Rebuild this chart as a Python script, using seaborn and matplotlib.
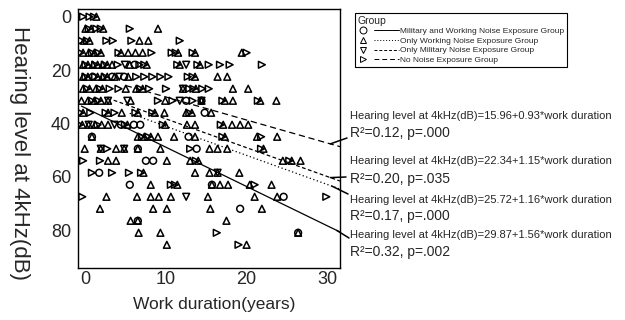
import numpy as np
import pandas as pd
import matplotlib
matplotlib.use("Agg")
import matplotlib.pyplot as plt
import seaborn as sns
from matplotlib.lines import Line2D
from matplotlib.legend_handler import HandlerBase

# ---------------- data ----------------
hearing_rows = [0, 4.5, 9, 13.5, 18, 22.5, 27, 31.5, 36, 40.5,
                45, 49.5, 54, 58.5, 63, 67.5, 72, 76.5, 81, 85.5]

# Only Working Noise Exposure Group (triangle up), years per hearing row
working_years = [
    [1.35],
    [0.0, 0.7, 2.2, 9.0],
    [-0.2, 0.5, 6.7, 7.8],
    [-0.3, 0.4, 1.1, 1.9, 4.4, 5.3, 6.2, 7.1, 11.5, 13.6, 19.4],
    [-0.3, 0.3, 0.9, 1.5, 2.1, 2.7, 3.3, 5.5, 7.6, 11.7, 14.2],
    [-0.3, 0.3, 1.5, 2.1, 2.7, 3.6, 5.3, 13.6, 16.4, 17.6],
    [-0.3, 0.5, 1.3, 2.1, 5.0, 6.3, 7.1, 12.1, 13.7, 18.3, 20.2],
    [-0.5, 0.3, 1.1, 1.9, 2.8, 5.6, 9.9, 14.4, 17.3, 18.3, 21.7, 23.7],
    [-0.3, 2.8, 4.5, 6.5, 8.6, 9.8, 12.5, 13.2, 15.6],
    [-0.4, 0.4, 1.2, 2.0, 2.8, 5.2, 9.9, 12.6, 13.6, 17.1, 18.2, 19.2, 20.2],
    [0.8, 6.5, 7.3, 8.1, 9.0, 11.0, 13.6, 17.3, 21.3, 23.8],
    [-0.1, 1.9, 3.8, 4.8, 6.5, 9.3, 15.4, 16.4, 17.6, 22.1],
    [2.8, 3.8, 10.1, 13.0, 14.0, 24.5, 25.6, 26.7],
    [7.2, 13.6, 15.4, 16.4, 19.1],
    [8.1, 11.4, 15.7, 16.7, 17.7, 20.4, 23.1],
    [2.6, 6.4, 8.1, 9.1, 10.6, 15.2, 21.0, 23.8],
    [1.8, 8.4, 10.1, 15.5, 21.9],
    [5.6, 6.5, 17.5],
    [6.6, 9.3, 26.4],
    [10.1, 20.0],
]

# No Noise Exposure Group (triangle right)
none_years = [
    [-0.3, 0.5, 1.05],
    [0.4, 1.35, 1.9, 5.5],
    [-0.5, 0.2, 2.6, 3.4, 5.7, 11.7],
    [-0.6, 0.8, 1.6, 4.1, 8.2, 10.7, 11.2, 13.3, 20.0],
    [0.0, 1.2, 2.4, 4.0, 6.7, 7.3, 11.4, 13.9, 15.3, 16.7, 17.9, 21.9],
    [0.0, 1.2, 2.4, 6.3, 7.3, 8.3, 9.3, 10.3, 12.7, 13.3],
    [0.2, 1.8, 3.0, 4.1, 6.8, 7.9, 10.0, 12.9, 13.4, 14.5, 15.3],
    [0.8, 1.6, 9.0, 10.8, 13.3, 17.0, 21.4],
    [-0.6, 0.6, 2.5, 3.6, 6.2, 8.3, 12.9],
    [-0.7, 1.5, 4.9, 9.6, 16.8],
    [7.0, 7.8, 17.0, 21.8],
    [2.7, 13.0, 21.8],
    [-0.3, 1.8, 13.7, 25.3],
    [0.8, 3.3, 5.4, 6.9],
    [10.6, 11.1, 21.0],
    [-0.4, 29.9],
    [],
    [],
    [16.3],
    [19.0],
]

# Military and Working Noise Exposure Group (circle)
both_years = [
    [], [], [], [],
    [6.1],
    [0.9, 3.3, 4.8],
    [],
    [12.5, 14.4],
    [14.8],
    [4.4, 6.0, 6.8],
    [0.8, 12.8],
    [6.5, 13.8],
    [7.5, 8.4],
    [1.7],
    [5.5, 15.7],
    [24.6],
    [19.2],
    [6.5],
    [26.4],
    [],
]

# Only Military Noise Exposure Group (triangle down)
military_years = [
    [], [], [], [],
    [4.9, 12.5],
    [4.2],
    [12.1],
    [2.8, 5.2, 11.7, 14.4],
    [],
    [0.4, 3.6],
    [],
    [1.9, 4.8],
    [],
    [16.4],
    [],
    [12.5],
    [], [], [], [],
]

group_names = ["Military and Working Noise Exposure Group",
               "Only Working Noise Exposure Group",
               "Only Military Noise Exposure Group",
               "No Noise Exposure Group"]
group_markers = ["o", "^", "v", ">"]
group_dashes = ["", (1, 2), (3, 2), (5, 3)]

# fitted lines as drawn in the picture (start/end)
line_x_start = [-0.5, 5.5, 3.5, 5.0]
line_x_end = [31.6, 31.6, 31.6, 31.6]
line_y_start = [33.5, 36.2, 31.3, 25.8]
line_y_end = [80.7, 64.6, 61.6, 48.7]

equations = ["Hearing level at 4kHz(dB)=15.96+0.93*work duration",
             "Hearing level at 4kHz(dB)=22.34+1.15*work duration",
             "Hearing level at 4kHz(dB)=25.72+1.16*work duration",
             "Hearing level at 4kHz(dB)=29.87+1.56*work duration"]
stats = ["R²=0.12, p=.000", "R²=0.20, p=.035", "R²=0.17, p=.000", "R²=0.32, p=.002"]
# which line each annotation points to (index into groups) and where it leaves it
label_line = [3, 2, 1, 0]
label_x = [30.4, 30.4, 30.6, 31.2]

x_ticks = [0, 10, 20, 30]
y_ticks = [0, 20, 40, 60, 80]

# ---------------- build tables ----------------
recs = []
for gname, years_by_row in zip(group_names,
                               [both_years, working_years, military_years, none_years]):
    for lvl, yrs in zip(hearing_rows, years_by_row):
        for x in yrs:
            recs.append((gname, x, lvl))
df = pd.DataFrame(recs, columns=["group", "years", "hearing"])

line_recs = []
for i, g in enumerate(group_names):
    line_recs.append((g, line_x_start[i], line_y_start[i]))
    line_recs.append((g, line_x_end[i], line_y_end[i]))
ldf = pd.DataFrame(line_recs, columns=["group", "x", "y"])

# ---------------- plot ----------------
sns.set_theme(style="white")
plt.rcParams["font.family"] = ["Liberation Sans", "DejaVu Sans"]

W, H = 625, 320
fig = plt.figure(figsize=(W / 100, H / 100), dpi=100)
ax = fig.add_axes([78 / W, 1 - 268 / H, 262 / W, 259 / H])

sns.scatterplot(data=df, x="years", y="hearing", style="group",
                style_order=group_names,
                markers=dict(zip(group_names, group_markers)),
                s=24, color="black", legend=False, ax=ax)
for coll in ax.collections:
    coll.set_facecolor("none")
    coll.set_edgecolor("black")
    coll.set_linewidth(1.1)

sns.lineplot(data=ldf, x="x", y="y", style="group", style_order=group_names,
             dashes=dict(zip(group_names, group_dashes)),
             color="black", linewidth=0.9, estimator=None, sort=False,
             legend=False, ax=ax)

ax.set_xlim(-0.93, 31.6)
ax.set_ylim(94.2, -2.9)
ax.set_xticks(x_ticks)
ax.set_yticks(y_ticks)
ax.tick_params(axis="y", length=0, labelsize=13, pad=5)
ax.tick_params(axis="x", length=0, labelsize=13, pad=2)
ax.set_xlabel("")
ax.set_ylabel("")
for sp in ax.spines.values():
    sp.set_visible(True)
    sp.set_color("black")
    sp.set_linewidth(1.0)

fig.text(214 / W, 1 - 304 / H, "Work duration(years)", ha="center", va="center",
         fontsize=12.5)
fig.text(19 / W, 1 - 153 / H, "Hearing level at 4kHz(dB)", ha="center", va="center",
         rotation=-90, fontsize=16)

# legend
class MarkerLineHandler(HandlerBase):
    def __init__(self, marker, dashes):
        super().__init__()
        self.marker = marker
        self.dashes = dashes

    def create_artists(self, legend, orig_handle, xdescent, ydescent, width,
                       height, fontsize, trans):
        y = height / 2 - ydescent
        x0 = -xdescent
        m = Line2D([x0 + 4], [y], marker=self.marker, ls="none", mfc="none",
                   mec="black", ms=5, mew=0.7)
        ln = Line2D([x0 + 12, x0 + width], [y, y], color="black", lw=0.7)
        if self.dashes:
            ln.set_dashes(self.dashes)
        m.set_transform(trans)
        ln.set_transform(trans)
        return [m, ln]

handles = [Line2D([], [], color="black") for _ in group_names]
hmap = {h: MarkerLineHandler(mk, ds) for h, mk, ds in zip(handles, group_markers, group_dashes)}
leg = ax.legend(handles=handles, labels=group_names, handler_map=hmap, title="Group",
                loc="upper left", bbox_to_anchor=(355 / W, 1 - 13 / H),
                bbox_transform=fig.transFigure, fontsize=6, title_fontsize=7.5,
                alignment="left", frameon=True, fancybox=False, edgecolor="black",
                framealpha=1, borderpad=0.3, handlelength=5.0, handletextpad=0.15,
                labelspacing=0.22, borderaxespad=0)
leg.get_frame().set_linewidth(0.8)

# equations and leader lines
eq_y = [116, 161, 200, 235]
st_y = [133, 179, 216, 252]
lead_end = [(347, 138), (346, 177), (348, 194), (349, 238)]
for i in range(4):
    fig.text(350 / W, 1 - eq_y[i] / H, equations[i], ha="left", va="center", fontsize=8)
    fig.text(350 / W, 1 - st_y[i] / H, stats[i], ha="left", va="center", fontsize=10)
    gi = label_line[i]
    lx = label_x[i]
    slope = (line_y_end[gi] - line_y_start[gi]) / (line_x_end[gi] - line_x_start[gi])
    ly = line_y_start[gi] + slope * (lx - line_x_start[gi])
    ex, ey = lead_end[i]
    ax.annotate("", xy=(lx, ly), xycoords="data",
                xytext=(ex, H - ey), textcoords="figure pixels",
                arrowprops=dict(arrowstyle="-", lw=1.1, color="black",
                                shrinkA=0, shrinkB=0),
                annotation_clip=False)

fig.savefig("out.png", dpi=100)
